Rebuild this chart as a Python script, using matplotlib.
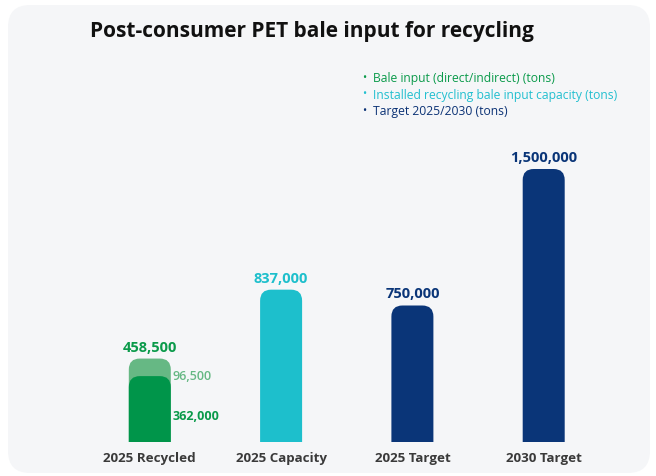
import numpy as np
import matplotlib
matplotlib.use("Agg")
import matplotlib.pyplot as plt
from matplotlib.patches import FancyBboxPatch

plt.rcParams['font.family'] = ['Open Sans', 'DejaVu Sans']

# data -------------------------------------------------------
categories = ['2025 Recycled', '2025 Capacity', '2025 Target', '2030 Target']
values = [458500, 837000, 750000, 1500000]
recycled_direct = 362000
recycled_extra = 96500
bar_colors = ['#66b884', '#1dbfcc', '#0a3578', '#0a3578']
label_colors = ['#0a9a4a', '#1dbfcc', '#0a3578', '#0a3578']
legend_items = ['Bale input (direct/indirect) (tons)',
                'Installed recycling bale input capacity (tons)',
                'Target 2025/2030 (tons)']
legend_colors = ['#0a9a4a', '#22bfcf', '#0b3275']
dark_green = '#00954a'

W, H = 656, 477
fig = plt.figure(figsize=(W / 100, H / 100), dpi=100)
fig.patch.set_facecolor('white')

# rounded panel behind everything
px, py, pw, ph = 8, 6, 642, 468
panel = FancyBboxPatch((px / W, 1 - (py + ph) / H), pw / W, ph / H,
                       boxstyle='round,pad=0,rounding_size=%f' % (22 / W),
                       mutation_aspect=W / H, transform=fig.transFigure,
                       facecolor='#f5f6f8', edgecolor='none', zorder=-5)
fig.patches.append(panel)

# axes placement (pixels)
base_px = 443
ymax = 1750000
px_per_unit_y = 182 / 1e6
ax_h = ymax * px_per_unit_y
step = 131.3
ax_left = 149.8 - step / 2
ax_w = step * 4
ax = fig.add_axes([ax_left / W, (H - base_px) / H, ax_w / W, ax_h / H])
ax.set_xlim(-0.5, 3.5)
ax.set_ylim(0, ymax)
ax.axis('off')
ax.set_zorder(2)

x_per_px = 4 / ax_w
y_per_px = ymax / ax_h
bar_w = 42 / step
radius = 11  # px


def rounded_bar(x, h, color, z=2):
    p = FancyBboxPatch((x - bar_w / 2, -30 * y_per_px), bar_w, h + 30 * y_per_px,
                       boxstyle='round,pad=0,rounding_size=%f' % (radius * x_per_px),
                       mutation_aspect=y_per_px / x_per_px,
                       facecolor=color, edgecolor='none', zorder=z)
    ax.add_patch(p)


xs = np.arange(len(categories))
for i, (x, v) in enumerate(zip(xs, values)):
    rounded_bar(x, v, bar_colors[i])
    ax.text(x, v + 5 * y_per_px, f'{v:,}', ha='center', va='bottom',
            fontsize=10.5, fontweight='bold', color=label_colors[i])
    ax.text(x, -9 * y_per_px, categories[i], ha='center', va='top',
            fontsize=9.6, fontweight='bold', color='#3a3a3a', clip_on=False)

# stacked part of first bar
rounded_bar(xs[0], recycled_direct, dark_green, z=3)
ax.text(xs[0] + bar_w / 2 + 2 * x_per_px, recycled_direct + 1 * y_per_px,
        f'{recycled_extra:,}', ha='left', va='center', fontsize=9,
        fontweight='semibold', color='#66b884')
ax.text(xs[0] + bar_w / 2 + 2 * x_per_px, recycled_direct - 39 * y_per_px,
        f'{recycled_direct:,}', ha='left', va='center', fontsize=9,
        fontweight='bold', color='#0a9a4a')

# title
fig.text(312 / W, 1 - 32 / H, 'Post-consumer PET bale input for recycling',
         ha='center', va='center', fontsize=15, fontweight='bold', color='#111111')

# legend
for i, (t, c) in enumerate(zip(legend_items, legend_colors)):
    yy = 1 - (78.5 + i * 16.5) / H
    fig.text(362 / W, yy, '\u2022', ha='left', va='center', fontsize=8, color=c)
    fig.text(373 / W, yy, t, ha='left', va='center', fontsize=8.75, color=c)

fig.savefig('out.png', dpi=100)
